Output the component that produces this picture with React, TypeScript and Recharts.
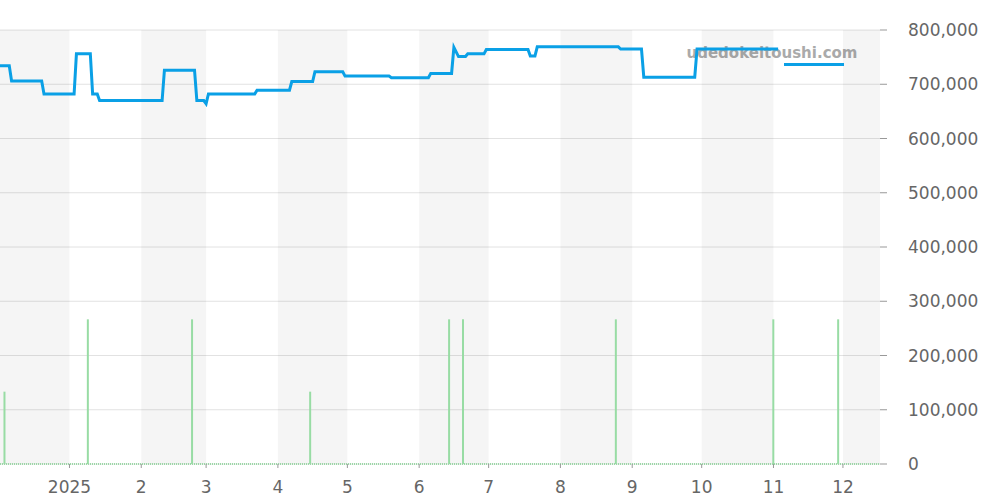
import {
  ComposedChart,
  Line,
  Bar,
  XAxis,
  YAxis,
  CartesianGrid,
  ReferenceArea,
  ReferenceLine,
} from 'recharts';

const d = (y: number, m: number, day: number) => Date.UTC(y, m - 1, day);

// price history (yen)
const priceDates = [
  d(2024, 12, 2), d(2024, 12, 6), d(2024, 12, 7), d(2024, 12, 20), d(2024, 12, 21),
  d(2025, 1, 3), d(2025, 1, 4), d(2025, 1, 10), d(2025, 1, 11), d(2025, 1, 13),
  d(2025, 1, 14), d(2025, 2, 10), d(2025, 2, 11), d(2025, 2, 24), d(2025, 2, 25),
  d(2025, 2, 28), d(2025, 3, 1), d(2025, 3, 2), d(2025, 3, 22), d(2025, 3, 23),
  d(2025, 4, 6), d(2025, 4, 7), d(2025, 4, 16), d(2025, 4, 17), d(2025, 4, 29),
  d(2025, 4, 30), d(2025, 5, 19), d(2025, 5, 20), d(2025, 6, 5), d(2025, 6, 6),
  d(2025, 6, 15), d(2025, 6, 16), d(2025, 6, 18), d(2025, 6, 21), d(2025, 6, 22),
  d(2025, 6, 29), d(2025, 6, 30), d(2025, 7, 18), d(2025, 7, 19), d(2025, 7, 21),
  d(2025, 7, 22), d(2025, 8, 26), d(2025, 8, 27), d(2025, 9, 5), d(2025, 9, 6),
  d(2025, 9, 28), d(2025, 9, 29), d(2025, 11, 3),
];
const priceValues = [
  734000, 734000, 706000, 706000, 682000,
  682000, 756000, 756000, 682000, 682000,
  670000, 670000, 726000, 726000, 670000,
  670000, 664000, 682000, 682000, 689000,
  689000, 705000, 705000, 723000, 723000,
  715000, 715000, 712000, 712000, 720000,
  720000, 768000, 751000, 751000, 756000,
  756000, 764000, 764000, 752000, 752000,
  769000, 769000, 765000, 765000, 713000,
  713000, 765000, 765000,
];

// trade volume (count)
const volumeDates = [
  d(2024, 12, 4), d(2025, 1, 9), d(2025, 2, 23), d(2025, 4, 15), d(2025, 6, 14),
  d(2025, 6, 20), d(2025, 8, 25), d(2025, 11, 1), d(2025, 11, 29),
];
const volumeValues = [1, 2, 2, 1, 2, 2, 2, 2, 2];

const monthTicks = [
  d(2025, 1, 1), d(2025, 2, 1), d(2025, 3, 1), d(2025, 4, 1), d(2025, 5, 1), d(2025, 6, 1),
  d(2025, 7, 1), d(2025, 8, 1), d(2025, 9, 1), d(2025, 10, 1), d(2025, 11, 1), d(2025, 12, 1),
];
const monthLabels = ['2025', '2', '3', '4', '5', '6', '7', '8', '9', '10', '11', '12'];

const yTicks = [0, 100000, 200000, 300000, 400000, 500000, 600000, 700000, 800000];

const START = d(2024, 12, 2);
const END = d(2025, 12, 17);

const shadedMonths = [
  [START, d(2025, 1, 1)],
  [d(2025, 2, 1), d(2025, 3, 1)],
  [d(2025, 4, 1), d(2025, 5, 1)],
  [d(2025, 6, 1), d(2025, 7, 1)],
  [d(2025, 8, 1), d(2025, 9, 1)],
  [d(2025, 10, 1), d(2025, 11, 1)],
  [d(2025, 12, 1), END],
];

type Row = { t: number; price?: number; volume?: number };

function buildRows(): Row[] {
  const map = new Map<number, Row>();
  priceDates.forEach((t, i) => map.set(t, { t, price: priceValues[i] }));
  volumeDates.forEach((t, i) => {
    const row = map.get(t) || { t };
    row.volume = volumeValues[i];
    map.set(t, row);
  });
  return Array.from(map.values()).sort((a, b) => a.t - b.t);
}

const rows = buildRows();

const FONT = '"DejaVu Sans", sans-serif';
const BLUE = '#0aa0e6';

export default function App() {
  return (
    <div style={{ position: 'absolute', left: 0, top: 0, width: 1000, height: 500, background: '#fff' }}>
      <ComposedChart width={1000} height={500} data={rows} margin={{ top: 30, right: 0, bottom: 0, left: 0 }}>
        {shadedMonths.map(([a, b], i) => (
          <ReferenceArea key={i} x1={a} x2={b} yAxisId="price" fill="#000" fillOpacity={0.04} stroke="none" ifOverflow="visible" />
        ))}
        <CartesianGrid vertical={false} stroke="#e2e2e2" yAxisId="price" />
        <XAxis
          dataKey="t"
          type="number"
          scale="time"
          domain={[START, END]}
          ticks={monthTicks}
          tickFormatter={(v: number) => monthLabels[monthTicks.indexOf(v)] ?? ''}
          height={36}
          axisLine={false}
          tickSize={4}
          tickMargin={13}
          tickLine={{ stroke: '#999' }}
          tick={{ fill: '#666', fontSize: 17, fontFamily: FONT }}
          allowDataOverflow
        />
        <YAxis
          yAxisId="price"
          orientation="right"
          domain={[0, 800000]}
          ticks={yTicks}
          width={120}
          axisLine={false}
          tickSize={7}
          tickMargin={21}
          tickLine={{ stroke: '#999' }}
          tickFormatter={(v: number) => v.toLocaleString('en-US')}
          tick={{ fill: '#666', fontSize: 17, fontFamily: FONT }}
          interval={0}
        />
        <YAxis yAxisId="vol" hide domain={[0, 6]} />
        <ReferenceLine yAxisId="vol" y={0} stroke="#9ad9a6" strokeWidth={2} strokeDasharray="1 1" />
        <text
          x={772}
          y={58}
          textAnchor="middle"
          fill="#aaaaaa"
          fontSize={15}
          fontWeight="bold"
          fontFamily={FONT}
        >
          udedokeitoushi.com
        </text>
        <Bar yAxisId="vol" dataKey="volume" fill="#98dca4" barSize={2} isAnimationActive={false} />
        <Line
          yAxisId="price"
          dataKey="price"
          type="linear"
          stroke={BLUE}
          strokeWidth={3}
          dot={false}
          connectNulls
          isAnimationActive={false}
        />
      </ComposedChart>
      {/* legend swatch, no label */}
      <div style={{ position: 'absolute', left: 784, top: 63, width: 60, height: 3, background: BLUE }} />
    </div>
  );
}
